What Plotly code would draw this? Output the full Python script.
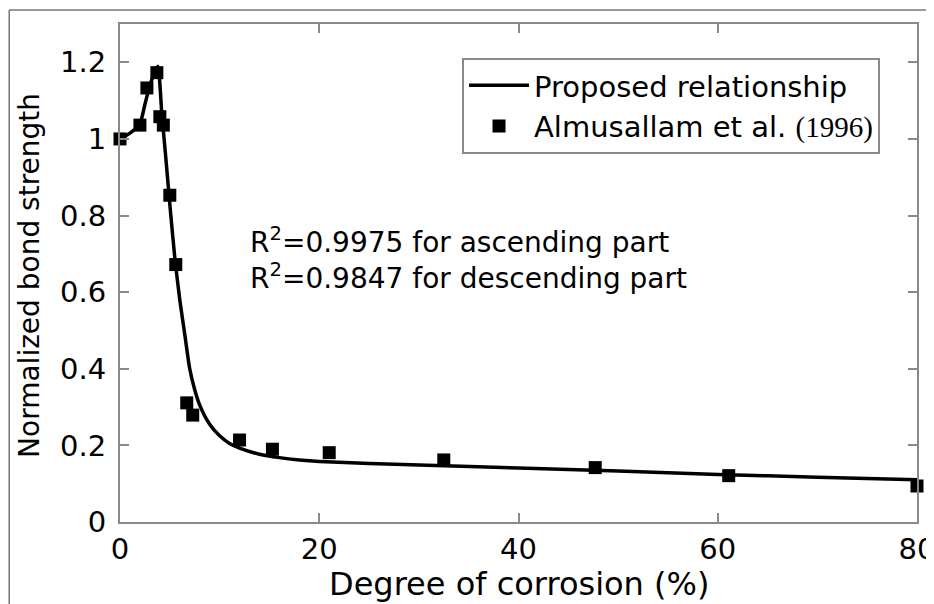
import plotly.graph_objects as go

# Experimental data (Almusallam et al., 1996)
data_x = [0, 2.0, 2.7, 3.7, 4.0, 4.35, 5.0, 5.6, 6.7, 7.3, 12.0, 15.3, 21.0, 32.5, 47.7, 61.1, 80.0]
data_y = [1.0, 1.036, 1.133, 1.173, 1.058, 1.036, 0.853, 0.672, 0.311, 0.279, 0.214, 0.19, 0.181, 0.162, 0.142, 0.121, 0.094]

# Proposed relationship
curve_x = [0, 1, 2, 2.5, 3, 3.5, 3.8, 4.2, 4.6, 5.0, 5.5, 6.0, 6.5, 7.0, 7.5, 8, 9, 10, 11, 12, 14, 16, 18, 20, 25, 30, 40, 50, 60, 70, 80]
curve_y = [1.0, 1.015, 1.04, 1.09, 1.14, 1.175, 1.19, 1.065, 0.95, 0.83, 0.69, 0.58, 0.49, 0.40, 0.345, 0.305, 0.255, 0.225, 0.205, 0.193, 0.177, 0.168, 0.162, 0.158, 0.153, 0.149, 0.141, 0.133, 0.124, 0.117, 0.11]

x_ticks = [0, 20, 40, 60, 80]
y_ticks = [0, 0.2, 0.4, 0.6, 0.8, 1.0, 1.2]
y_tick_text = ["0", "0.2", "0.4", "0.6", "0.8", "1", "1.2"]

FONT = "DejaVu Sans, Arial, sans-serif"

fig = go.Figure()
fig.add_trace(go.Scatter(
    x=curve_x, y=curve_y, mode="lines",
    line=dict(color="black", width=3.5, shape="spline", smoothing=0.6),
    name="Proposed relationship",
))
fig.add_trace(go.Scatter(
    x=data_x, y=data_y, mode="markers", cliponaxis=False,
    marker=dict(symbol="square", size=13, color="black"),
    name="Almusallam et al. <span style='font-family:Liberation Serif, Times New Roman, serif'>(1996)</span>",
))

axis_common = dict(
    showline=True, linecolor="#8a8a8a", linewidth=2, mirror="ticks",
    ticks="inside", ticklen=9, tickwidth=1.5, tickcolor="#8a8a8a",
    showgrid=False, zeroline=False, automargin=False,
    tickfont=dict(family=FONT, size=29, color="black"),
    ticklabeloverflow="allow",
)

fig.update_xaxes(range=[0, 80], tickvals=x_ticks, ticktext=[str(t) for t in x_ticks], **axis_common)
fig.update_yaxes(range=[0, 1.3], tickvals=y_ticks, ticktext=y_tick_text, ticklabelstandoff=6, **axis_common)

# axis titles
fig.add_annotation(
    x=0.5, y=-0.125, xref="paper", yref="paper", xanchor="center", yanchor="middle",
    text="Degree of corrosion (%)", showarrow=False,
    font=dict(family=FONT, size=32, color="black"),
)
fig.add_annotation(
    x=-0.113, y=0.496, xref="paper", yref="paper", xanchor="center", yanchor="middle",
    text="Normalized bond strength", showarrow=False, textangle=-90,
    font=dict(family=FONT, size=28, color="black"),
)

fig.add_annotation(
    x=0.16, y=0.565, xref="paper", yref="paper", xanchor="left", yanchor="middle",
    text="R<sup>2</sup>=0.9975 for ascending part",
    showarrow=False, align="left",
    font=dict(family=FONT, size=28, color="black"),
)
fig.add_annotation(
    x=0.16, y=0.493, xref="paper", yref="paper", xanchor="left", yanchor="middle",
    text="R<sup>2</sup>=0.9847 for descending part",
    showarrow=False, align="left",
    font=dict(family=FONT, size=28, color="black"),
)

# outer frame lines (left and top)
fig.add_shape(type="line", xref="paper", yref="paper", x0=-0.139, x1=1.03, y0=1.028, y1=1.028,
              line=dict(color="#777", width=1.5))
fig.add_shape(type="line", xref="paper", yref="paper", x0=-0.139, x1=-0.139, y0=-0.2, y1=1.028,
              line=dict(color="#777", width=1.5))

fig.update_layout(
    width=926, height=596,
    margin=dict(l=112, r=17, t=16, b=82, autoexpand=False),
    paper_bgcolor="white", plot_bgcolor="white",
    showlegend=True,
    legend=dict(
        x=0.9536, y=0.932, xanchor="right", yanchor="top",
        bordercolor="#8a8a8a", borderwidth=2, bgcolor="white",
        font=dict(family=FONT, size=29, color="black"),
        tracegroupgap=0, itemwidth=60,
    ),
)

fig.write_html("out.html")
